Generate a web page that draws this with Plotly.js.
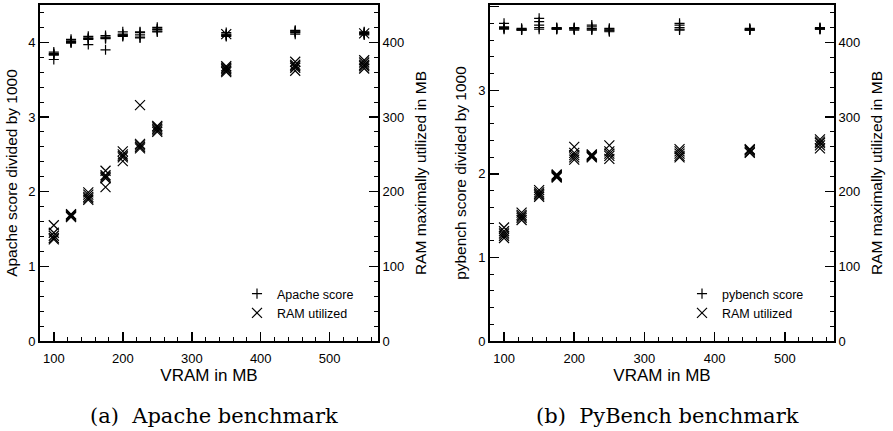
<!DOCTYPE html>
<html><head><meta charset="utf-8">
<script src="https://cdn.plot.ly/plotly-3.0.1.min.js"></script>
<style>html,body{margin:0;padding:0;background:#fff}</style>
</head><body><div id="chart" style="width:893px;height:431px"></div>
<script>
// VRAM settings (x positions, MB)
const vram = [100, 125, 150, 175, 200, 225, 250, 350, 450, 550];
// (a) Apache benchmark: score / 1000 (left axis), several runs per setting
const apacheScore = [
  [3.87, 3.85, 3.84, 3.83, 3.77],
  [4.04, 4.02, 4.01, 4.00, 3.99],
  [4.08, 4.06, 4.05, 4.04, 3.97],
  [4.09, 4.07, 4.06, 4.05, 3.90],
  [4.14, 4.11, 4.10, 4.09, 4.08],
  [4.14, 4.13, 4.10, 4.07, 4.06],
  [4.20, 4.18, 4.17, 4.15, 4.14],
  [4.13, 4.11, 4.10, 4.09, 4.08],
  [4.16, 4.15, 4.14, 4.13, 4.11],
  [4.14, 4.13, 4.12, 4.11, 4.10]
];
// (a) RAM maximally utilized in MB (right axis)
const apacheRam = [
  [155, 145, 141, 138, 136],
  [170, 169, 168, 167, 166],
  [199, 196, 193, 191, 189],
  [228, 222, 220, 218, 206],
  [254, 250, 248, 246, 241],
  [316, 264, 262, 260, 258],
  [288, 286, 284, 282, 280],
  [411, 368, 366, 364, 362, 360],
  [374, 370, 368, 366, 362],
  [412, 376, 373, 370, 368, 365]
];
// (b) PyBench benchmark: score / 1000 (left axis)
const pybenchScore = [
  [3.80, 3.76, 3.75, 3.74, 3.73],
  [3.74, 3.73, 3.73, 3.72, 3.72],
  [3.86, 3.82, 3.78, 3.75, 3.73],
  [3.75, 3.74, 3.74, 3.73, 3.73],
  [3.75, 3.74, 3.74, 3.73, 3.72],
  [3.78, 3.76, 3.74, 3.73, 3.72],
  [3.74, 3.73, 3.72, 3.71, 3.70],
  [3.80, 3.78, 3.75, 3.73, 3.72],
  [3.74, 3.73, 3.73, 3.72, 3.72],
  [3.75, 3.74, 3.74, 3.73, 3.73]
];
// (b) RAM maximally utilized in MB (right axis)
const pybenchRam = [
  [152, 147, 144, 141, 138],
  [172, 169, 167, 165, 162],
  [202, 199, 197, 195, 193],
  [223, 222, 221, 220, 219],
  [260, 252, 249, 246, 243],
  [250, 249, 248, 247, 246],
  [262, 254, 251, 248, 244],
  [257, 254, 251, 248, 246],
  [257, 256, 255, 253, 252],
  [270, 267, 265, 262, 258]
];
const legendNames = ['Apache score', 'RAM utilized', 'pybench score', 'RAM utilized'];
const xTitle = 'VRAM in MB';
const yTitles = ['Apache score divided by 1000', 'RAM maximally utilized in MB', 'pybench score divided by 1000', 'RAM maximally utilized in MB'];
const captions = ['(a)\u00a0\u00a0Apache benchmark', '(b)\u00a0\u00a0PyBench benchmark'];

function flat(xs, groups) {
  const x = [], y = [];
  groups.forEach((g, i) => g.forEach(v => { x.push(xs[i]); y.push(v); }));
  return {x, y};
}
const SANS = '"Liberation Sans", Arial, Helvetica, sans-serif';
const plusMarker = {symbol: 'cross-thin', size: 7.2, color: '#000', line: {width: 1.2, color: '#000'}};
const xMarker = {symbol: 'x-thin', size: 10, color: '#000', line: {width: 1.2, color: '#000'}};

function tr(data, name, marker, xa, ya, leg) {
  const f = flat(vram, data);
  return {type: 'scatter', mode: 'markers', x: f.x, y: f.y, name: name, marker: marker,
          xaxis: xa, yaxis: ya, legend: leg, showlegend: true, cliponaxis: false};
}
const traces = [
  tr(apacheScore, legendNames[0], plusMarker, 'x', 'y', 'legend'),
  tr(apacheRam, legendNames[1], xMarker, 'x', 'y2', 'legend'),
  tr(pybenchScore, legendNames[2], plusMarker, 'x2', 'y3', 'legend2'),
  tr(pybenchRam, legendNames[3], xMarker, 'x2', 'y4', 'legend2')
];

const W = 893, H = 431;
const yDom = [(H - 341) / H, (H - 5) / H];
function xax(dom, anchor) {
  return {domain: dom, anchor: anchor, range: [80, 570], dtick: 100, tick0: 0,
    ticks: 'inside', ticklen: 9, tickwidth: 1.5, tickcolor: '#000', ticklabelstandoff: 4,
    showline: true, linewidth: 2, linecolor: '#000', mirror: true,
    showgrid: false, zeroline: false, tickfont: {family: SANS, size: 13, color: '#000'},
    minor: {dtick: 20, tick0: 0, ticks: 'inside', ticklen: 4, tickwidth: 1, tickcolor: '#000', showgrid: false},
    title: {text: xTitle, font: {family: SANS, size: 17, color: '#000'}, standoff: 3}};
}
function yax(range, dtick, mdt, anchor, side, overlay, title, standoff) {
  const a = {anchor: anchor, side: side, range: range, dtick: dtick, tick0: 0,
    ticks: 'inside', ticklen: 9, tickwidth: 1.5, tickcolor: '#000',
    showline: true, linewidth: 2, linecolor: '#000',
    showgrid: false, zeroline: false, tickfont: {family: SANS, size: 13, color: '#000'},
    minor: {dtick: mdt, tick0: 0, ticks: 'inside', ticklen: 4, tickwidth: 1, tickcolor: '#000', showgrid: false},
    title: {text: title, font: {family: SANS, size: 15.5, color: '#000'}, standoff: standoff}};
  if (overlay) a.overlaying = overlay; else a.domain = yDom;
  return a;
}
const layout = {
  width: W, height: H, margin: {l: 0, r: 0, t: 0, b: 0},
  paper_bgcolor: '#fff', plot_bgcolor: '#fff',
  font: {family: SANS, color: '#000'},
  xaxis: xax([40 / W, 378 / W], 'y'),
  xaxis2: xax([490 / W, 834 / W], 'y3'),
  yaxis: yax([0, 4.5], 1, 0.2, 'x', 'left', null, yTitles[0], 7),
  yaxis2: yax([0, 450], 100, 20, 'x', 'right', 'y', yTitles[1], 12),
  yaxis3: yax([0, 4.02], 1, 0.2, 'x2', 'left', null, yTitles[2], 8),
  yaxis4: yax([0, 450], 100, 20, 'x2', 'right', 'y3', yTitles[3], 12),
  legend: {x: 237 / W, y: (H - 279) / H, xanchor: 'left', yanchor: 'top', bgcolor: 'rgba(0,0,0,0)',
    font: {family: SANS, size: 12.5, color: '#000'}, tracegroupgap: 0},
  legend2: {x: 682 / W, y: (H - 279) / H, xanchor: 'left', yanchor: 'top', bgcolor: 'rgba(0,0,0,0)',
    font: {family: SANS, size: 12.5, color: '#000'}, tracegroupgap: 0},
  annotations: [
    {text: captions[0], x: 214 / W, y: (H - 416) / H, xref: 'paper', yref: 'paper', showarrow: false,
     xanchor: 'center', yanchor: 'middle', font: {family: 'DejaVu Serif, serif', size: 21, color: '#000'}},
    {text: captions[1], x: 667 / W, y: (H - 416) / H, xref: 'paper', yref: 'paper', showarrow: false,
     xanchor: 'center', yanchor: 'middle', font: {family: 'DejaVu Serif, serif', size: 21, color: '#000'}}
  ]
};
Plotly.newPlot('chart', traces, layout, {staticPlot: true, displayModeBar: false});
</script></body></html>
